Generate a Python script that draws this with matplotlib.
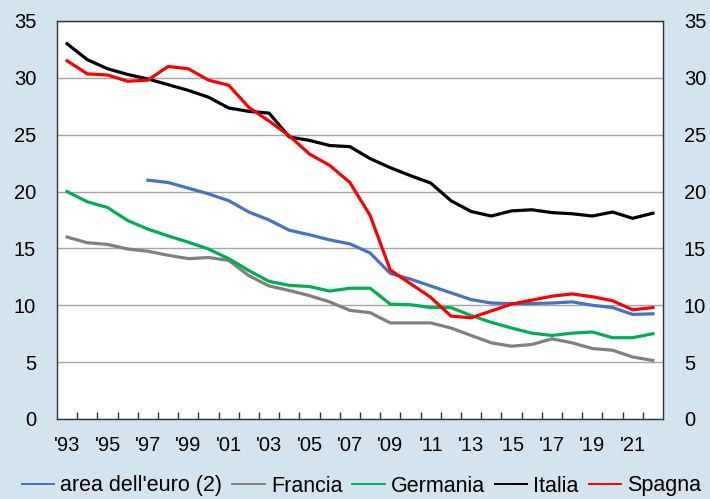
import matplotlib
matplotlib.use('Agg')
import matplotlib.pyplot as plt
import numpy as np

plt.rcParams['font.family'] = ['Liberation Sans', 'DejaVu Sans']

# anni 1993-2022
years = list(range(1993, 2023))
tick_labels = ["'%02d" % (y % 100) for y in years]

# area dell'euro parte dal 1997
euro = [None, None, None, None,
        21.0, 20.8, 20.3, 19.8, 19.2, 18.2, 17.5, 16.6, 16.2, 15.75, 15.4,
        14.6, 12.8, 12.3, 11.7, 11.1, 10.5, 10.2, 10.15, 10.15, 10.2,
        10.3, 10.0, 9.8, 9.2, 9.25]
francia = [16.0, 15.5, 15.35, 14.95, 14.75, 14.4, 14.1, 14.2, 13.95, 12.6,
           11.7, 11.3, 10.85, 10.3, 9.55, 9.35, 8.45, 8.45, 8.45, 8.0,
           7.35, 6.7, 6.4, 6.55, 7.05, 6.7, 6.2, 6.05, 5.45, 5.15]
germania = [20.0, 19.1, 18.6, 17.45, 16.7, 16.1, 15.55, 14.95, 14.1, 13.05,
            12.1, 11.75, 11.65, 11.25, 11.5, 11.5, 10.1, 10.05, 9.8, 9.8,
            9.1, 8.5, 8.0, 7.55, 7.35, 7.55, 7.65, 7.15, 7.15, 7.5]
italia = [33.0, 31.6, 30.8, 30.3, 29.9, 29.4, 28.9, 28.3, 27.35, 27.05,
          26.9, 24.8, 24.5, 24.05, 23.95, 22.9, 22.1, 21.4, 20.75, 19.2,
          18.25, 17.85, 18.3, 18.4, 18.15, 18.05, 17.85, 18.2, 17.65, 18.1]
spagna = [31.5, 30.35, 30.25, 29.7, 29.8, 31.0, 30.8, 29.8, 29.35, 27.4,
          26.2, 24.9, 23.3, 22.3, 20.8, 17.9, 13.1, 11.9, 10.7, 9.05,
          8.9, 9.5, 10.1, 10.45, 10.8, 11.0, 10.75, 10.4, 9.6, 9.8]

series = [
    ("area dell'euro (2)", euro, '#4472c4'),
    ('Francia', francia, '#808080'),
    ('Germania', germania, '#00b050'),
    ('Italia', italia, '#000000'),
    ('Spagna', spagna, '#ff0000'),
]

bg = '#d3e4ee'
fig = plt.figure(figsize=(7.10, 4.99), dpi=100, facecolor=bg)
ax = fig.add_axes([57 / 710, 1 - 419 / 499, 606 / 710, 398 / 499])
ax.set_facecolor('white')

x = np.arange(len(years))
for name, vals, col in series:
    y = np.array([np.nan if v is None else v for v in vals], dtype=float)
    ax.plot(x, y, color=col, lw=2.3, label=name, solid_joinstyle='round')

ax.set_xlim(-0.5, len(years) - 0.5)
ax.set_ylim(0, 35)
ax.set_yticks(np.arange(0, 36, 5))
ax.yaxis.grid(True, color='#a6a6a6', lw=1)
ax.set_axisbelow(True)

# etichette ogni due anni, tacche fra gli anni
ax.set_xticks(x[::2])
ax.set_xticklabels(tick_labels[::2])
ax.set_xticks(np.arange(0.5, len(years) - 0.5, 1), minor=True)
ax.tick_params(axis='x', which='major', length=0, pad=12, labelsize=14.5)
ax.tick_params(axis='x', which='minor', direction='in', length=5, width=1, color='#333333')
ax.tick_params(axis='y', length=0, pad=15, labelsize=14.5, labelright=True)

for s in ax.spines.values():
    s.set_color('#333333')
    s.set_linewidth(1)

# legenda in basso, linee sottili
handles, labels = ax.get_legend_handles_labels()
leg = fig.legend(handles, labels, loc='center left', bbox_to_anchor=(22 / 710, 13 / 499),
                 ncol=5, frameon=False, fontsize=15.5, borderpad=0, borderaxespad=0,
                 handlelength=1.5, handletextpad=0.28, columnspacing=0.47)
for h in leg.get_lines():
    h.set_linewidth(1.4)

fig.savefig('out.png', dpi=100, facecolor=bg)
